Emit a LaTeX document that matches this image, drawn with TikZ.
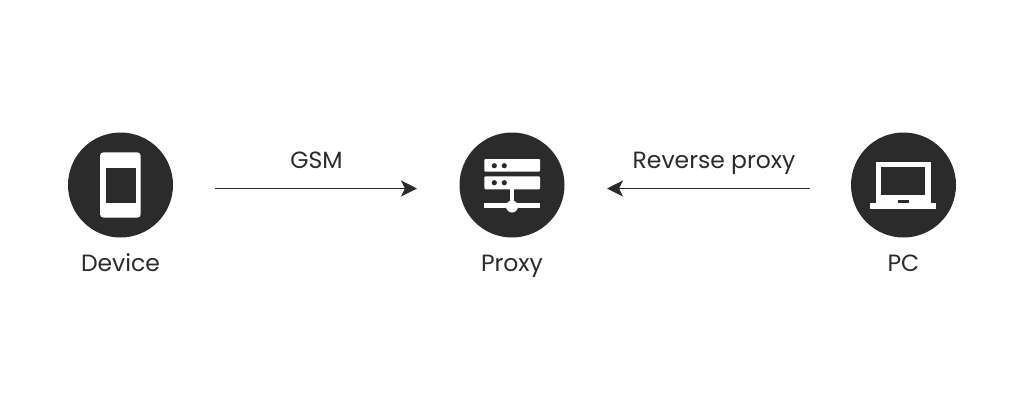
\documentclass[tikz,border=0pt]{standalone}
\usepackage{fontspec}
\setmainfont{Poppins}
\usetikzlibrary{arrows.meta}
\definecolor{ink}{HTML}{2B2B2B}
\tikzset{
  disc/.style={circle,fill=ink,draw=none,minimum size=105pt,inner sep=0pt},
  lbl/.style={text=ink,font=\fontsize{23.5}{28}\selectfont,inner sep=0pt,anchor=base},
  link/.style={draw=ink,line width=1.9pt,-{Stealth[length=16pt,width=16pt,inset=4pt]}},
  wht/.style={fill=white,draw=none},
  drk/.style={fill=ink,draw=none}
}
\begin{document}
\begin{tikzpicture}[x=1pt,y=-1pt]
\useasboundingbox[fill=white] (0,0) rectangle (1024,410);
% discs
\node[disc] (device) at (120.5,185) {};
\node[disc] (proxy) at (512,185) {};
\node[disc] (pc) at (903.5,185) {};
% phone
\fill[wht,rounded corners=3.5pt] (100,152.3) rectangle (140.7,217.7);
\fill[drk] (106,167.7) rectangle (135.7,202.7);
% server
\fill[wht,rounded corners=1pt] (484.3,159) rectangle (540,171.7);
\fill[wht,rounded corners=1pt] (484.3,176.3) rectangle (540,189.3);
\foreach \px in {494.3,504.3}{
  \fill[drk] (\px,165.7) circle (2.6);
  \fill[drk] (\px,182.7) circle (2.6);
}
\fill[wht] (510,189) rectangle (514,205);
\fill[wht] (484.3,203.3) rectangle (540,207.7);
\fill[wht] (512,206.5) circle (6);
% laptop
\fill[wht] (875.7,162) rectangle (930.7,204);
\fill[drk] (881,167.3) rectangle (925.3,195);
\fill[wht] (870.3,203) rectangle (936,208.7);
\fill[drk] (897.7,200.3) rectangle (908.7,203);
% labels
\node[lbl] (devicelabel) at (120.5,271) {Device};
\node[lbl] (proxylabel) at (512,271) {Proxy};
\node[lbl] (pclabel) at (903.5,271) {PC};
\node[lbl] (gsm) at (316.5,168) {GSM};
\node[lbl] (reverse) at (714,168) {Reverse proxy};
% connectors
\coordinate (a1) at (215,188.5);
\coordinate (a2) at (417,188.5);
\coordinate (b1) at (810,188.5);
\coordinate (b2) at (607,188.5);
\draw[link] (a1) -- (a2);
\draw[link] (b1) -- (b2);
\end{tikzpicture}
\end{document}
